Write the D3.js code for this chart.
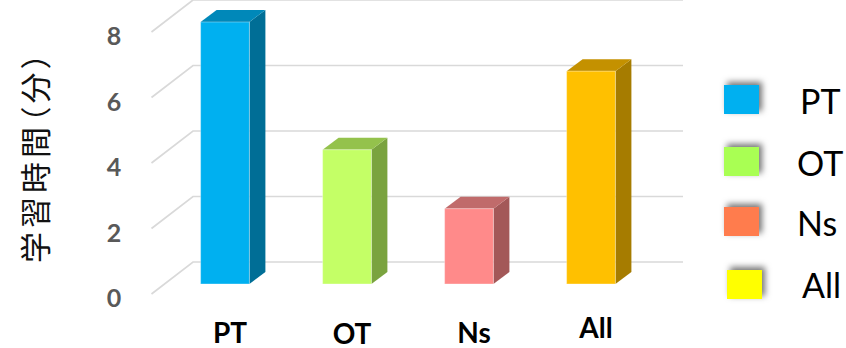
<!DOCTYPE html>
<html>
<head>
<meta charset="utf-8">
<script src="https://cdn.jsdelivr.net/npm/d3@7"></script>
<style>
  html, body { margin: 0; padding: 0; background: #fff; }
  svg { display: block; }
</style>
</head>
<body>
<svg id="chart" width="846" height="348"></svg>
<script>
// Study time per group (minutes)
const categories = ["PT", "OT", "Ns", "All"];
const values = [8, 4.1, 2.3, 6.5];
const tickValues = [0, 2, 4, 6, 8];
const yTitle = "学習時間（分）";

// face colours per bar: front, top, side
const frontColors = ["#00b0f0", "#c4ff66", "#ff8a8a", "#ffc000"];
const topColors   = ["#0088b9", "#94c24c", "#c06b6b", "#c49100"];
const sideColors  = ["#006e96", "#7aa33f", "#a35858", "#a67c00"];
const legendColors = ["#00b0f0", "#a9ff52", "#ff7c4d", "#ffff00"];

const W = 846, H = 348;
const svg = d3.select("#chart");

// oblique projection: back wall, bar depth, front edge of the floor
const wallDX = -41.5, wallDY = 32;      // back wall -> front edge of side wall
const barFrontDY = 22;                  // bar front face offset from back wall (y)
const barDX = 16, barDY = -12;          // bar depth offset (front -> back)

// value scale on the back wall
const y = d3.scaleLinear().domain([0, 8]).range([262, 0]);
// bar front faces, shifted down from the back wall
const yBar = v => y(v) + barFrontDY;

const x = d3.scaleBand()
  .domain(categories)
  .range([164, 652])
  .paddingInner(0.6)
  .paddingOuter(0.3);

const wallLeft = 193, wallRight = 683;

// gridlines: back wall + left side wall
const grid = svg.append("g").attr("stroke", "#d9d9d9").attr("stroke-width", 1.7).attr("fill", "none");
tickValues.forEach(t => {
  grid.append("path")
    .attr("d", `M${wallLeft + wallDX},${y(t) + wallDY} L${wallLeft},${y(t)} L${wallRight},${y(t)}`);
});

// y tick labels
svg.append("g")
  .selectAll("text")
  .data(tickValues)
  .join("text")
  .attr("x", 114)
  .attr("y", d => y(d) + wallDY + 3)
  .attr("text-anchor", "middle")
  .attr("dominant-baseline", "central")
  .attr("font-family", "Lato, 'Liberation Sans', sans-serif")
  .attr("font-weight", 700)
  .attr("font-size", 25)
  .attr("fill", "#595959")
  .text(d => d);

// y axis title
svg.append("text")
  .attr("transform", "translate(33,156) rotate(-90)")
  .attr("text-anchor", "middle")
  .attr("dominant-baseline", "central")
  .attr("font-family", "'Noto Sans CJK JP', sans-serif")
  .attr("font-size", 31)
  .attr("letter-spacing", 4)
  .style("font-feature-settings", "'palt'")
  .attr("fill", "#111")
  .text(yTitle);

// 3D bars
const bars = svg.append("g")
  .selectAll("g")
  .data(categories.map((c, i) => ({ c, v: values[i], i })))
  .join("g");

const bw = x.bandwidth();
bars.append("path") // side face
  .attr("d", d => {
    const x1 = x(d.c) + bw, yt = yBar(d.v), yb = yBar(0);
    return `M${x1},${yt} L${x1 + barDX},${yt + barDY} L${x1 + barDX},${yb + barDY} L${x1},${yb} Z`;
  })
  .attr("fill", d => sideColors[d.i]);

bars.append("path") // top face
  .attr("d", d => {
    const x0 = x(d.c), x1 = x0 + bw, yt = yBar(d.v);
    return `M${x0},${yt} L${x0 + barDX},${yt + barDY} L${x1 + barDX},${yt + barDY} L${x1},${yt} Z`;
  })
  .attr("fill", d => topColors[d.i]);

bars.append("rect") // front face
  .attr("x", d => x(d.c))
  .attr("y", d => yBar(d.v))
  .attr("width", bw)
  .attr("height", d => yBar(0) - yBar(d.v))
  .attr("fill", d => frontColors[d.i])
  .attr("stroke", "rgba(255,255,255,0.35)")
  .attr("stroke-width", 1);

// category labels, slightly staggered baselines
const labelShift = [0, 1, 0, -5];
svg.append("g")
  .selectAll("text")
  .data(categories)
  .join("text")
  .attr("x", (d) => x(d) + bw / 2 + 5)
  .attr("y", (d, i) => 343 + labelShift[i])
  .attr("text-anchor", "middle")
  .attr("font-family", "Lato, 'Liberation Sans', sans-serif")
  .attr("font-weight", 700)
  .attr("font-size", 28)
  .attr("fill", "#000")
  .text(d => d);

// legend with soft shadowed swatches
const defs = svg.append("defs");
const f = defs.append("filter").attr("id", "swShadow")
  .attr("x", "-50%").attr("y", "-50%").attr("width", "200%").attr("height", "200%");
f.append("feDropShadow")
  .attr("dx", 3).attr("dy", -3).attr("stdDeviation", 3)
  .attr("flood-color", "#000").attr("flood-opacity", 0.55);

const legendPos = [
  { sx: 724, sy: 85, tx: 800, ty: 100 },
  { sx: 724, sy: 147, tx: 797, ty: 162 },
  { sx: 724, sy: 207, tx: 797, ty: 222 },
  { sx: 727, sy: 270, tx: 802, ty: 284 }
];
const legend = svg.append("g")
  .selectAll("g")
  .data(categories)
  .join("g");
legend.append("rect")
  .attr("x", (d, i) => legendPos[i].sx)
  .attr("y", (d, i) => legendPos[i].sy)
  .attr("width", 35)
  .attr("height", 29)
  .attr("fill", (d, i) => legendColors[i])
  .attr("filter", "url(#swShadow)");
legend.append("text")
  .attr("x", (d, i) => legendPos[i].tx)
  .attr("y", (d, i) => legendPos[i].ty)
  .attr("dominant-baseline", "central")
  .attr("font-family", "Lato, 'Liberation Sans', sans-serif")
  .attr("font-size", 34)
  .attr("fill", "#000")
  .text(d => d);
</script>
</body>
</html>
